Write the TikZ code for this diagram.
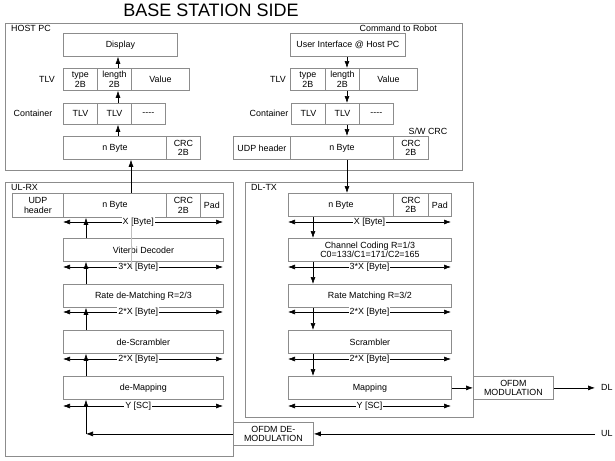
\documentclass[tikz,border=0pt]{standalone}
\usepackage{fontspec}
\setmainfont{Liberation Sans}
\usetikzlibrary{arrows.meta}
\definecolor{boxgray}{gray}{0.55}
\tikzset{
  cell/.style={draw=boxgray,line width=0.8pt,anchor=north west,inner sep=0pt,
    minimum height=23pt,align=center,font=\fontsize{8.9}{9.7}\selectfont},
  frame/.style={draw=boxgray,line width=0.8pt},
  lbl/.style={inner sep=0pt,font=\fontsize{8.9}{9.7}\selectfont},
  dimline/.style={<->,line width=0.6pt},
  dimtxt/.style={fill=white,inner sep=1pt,font=\fontsize{8.9}{9.7}\selectfont},
  flow/.style={->,line width=0.6pt},
}
\begin{document}
\begin{tikzpicture}[x=1pt,y=-1pt,>={Latex[length=7pt,width=5pt]}]
\useasboundingbox (0,0) rectangle (615,460);

\node[inner sep=0pt,font=\fontsize{18}{20}\selectfont] (title) at (211,10) {BASE STATION SIDE};

% host PC frame
\draw[frame] (5,23) rectangle (462,170);
\node[lbl,anchor=north west] (hostlbl) at (11,25) {HOST PC};
\node[lbl,anchor=east] (cmdlbl) at (437,28) {Command to Robot};

% host PC, receive side
\node[cell,minimum width=114pt] (disp) at (63,33) {Display};
\node[cell,minimum width=34pt,minimum height=22pt] (htype) at (63,68) {type\\2B};
\node[cell,minimum width=34pt,minimum height=22pt] (hlen) at (97,68) {length\\2B};
\node[cell,minimum width=58pt,minimum height=22pt] (hval) at (131,68) {Value};
\node[lbl] (htlv) at (47,79) {TLV};
\node[cell,minimum width=34pt,minimum height=21pt] (hc1) at (63,103) {TLV};
\node[cell,minimum width=34pt,minimum height=21pt] (hc2) at (97,103) {TLV};
\node[cell,minimum width=34pt,minimum height=21pt] (hc3) at (131,103) {{-}{-}{-}{-}};
\node[lbl] (hcont) at (33,113) {Container};
\node[cell,minimum width=103pt] (hnb) at (63,136) {n Byte};
\node[cell,minimum width=34pt] (hcrc) at (166,136) {CRC\\2B};

% host PC, send side
\node[cell,minimum width=115pt] (ui) at (290,33) {User Interface @ Host PC};
\node[cell,minimum width=35pt,minimum height=22pt] (stype) at (290,68) {type\\2B};
\node[cell,minimum width=34pt,minimum height=22pt] (slen) at (325,68) {length\\2B};
\node[cell,minimum width=58pt,minimum height=22pt] (sval) at (359,68) {Value};
\node[lbl] (stlv) at (278,79) {TLV};
\node[cell,minimum width=34pt,minimum height=21pt] (sc1) at (291,103) {TLV};
\node[cell,minimum width=34pt,minimum height=21pt] (sc2) at (325,103) {TLV};
\node[cell,minimum width=34pt,minimum height=21pt] (sc3) at (359,103) {{-}{-}{-}{-}};
\node[lbl] (scont) at (269,113) {Container};
\node[cell,minimum width=57pt] (sudp) at (233,136) {UDP header};
\node[cell,minimum width=103pt] (snb) at (290,136) {n Byte};
\node[cell,minimum width=35pt] (scrc) at (393,136) {CRC\\2B};
\node[lbl] (swcrc) at (428,131) {S/W CRC};

\coordinate (hx) at (118,0);
\coordinate (sx) at (347,0);
\draw[flow] (hnb.north -| hx) -- (hc2.south -| hx);
\draw[flow] (hc2.north -| hx) -- (hlen.south -| hx);
\draw[flow] (hlen.north -| hx) -- (disp.south -| hx);
\draw[flow] (ui.south -| sx) -- (slen.north -| sx);
\draw[flow] (slen.south -| sx) -- (sc2.north -| sx);
\draw[flow] (sc2.south -| sx) -- (snb.north -| sx);

% UL-RX
\draw[frame] (5,182) rectangle (233,456);
\node[lbl,anchor=north west] (ulrx) at (11,184) {UL-RX};
\node[cell,minimum width=51pt,minimum height=24pt] (uudp) at (12,193) {UDP\\header};
\node[cell,minimum width=103pt,minimum height=24pt] (unb) at (63,193) {n Byte};
\node[cell,minimum width=34pt,minimum height=24pt] (ucrc) at (166,193) {CRC\\2B};
\node[cell,minimum width=23pt,minimum height=24pt] (upad) at (200,193) {Pad};
\node[cell,minimum width=160pt] (vit) at (63,238) {Viterbi Decoder};
\node[cell,minimum width=160pt] (rdm) at (63,284) {Rate de-Matching R=2/3};
\node[cell,minimum width=160pt] (dscr) at (63,330) {de-Scrambler};
\node[cell,minimum width=160pt] (dmap) at (63,376) {de-Mapping};
\foreach \y/\t in {222/X [Byte],267/3*X [Byte],312/2*X [Byte],359/2*X [Byte],406/Y [SC]}
  \draw[dimline] (63,\y) -- node[dimtxt,pos=0.47]{\t} (223,\y);

\coordinate (ux) at (86,0);
\coordinate (hostx) at (131,0);
\draw[gray!50,line width=0.5pt] (unb.south -| hostx) -- (131,267);
\draw[flow] (dmap.north -| ux) -- (dscr.south -| ux);
\draw[flow] (dscr.north -| ux) -- (rdm.south -| ux);
\draw[flow] (rdm.north -| ux) -- (vit.south -| ux);
\draw[flow] (vit.north -| ux) -- (unb.south -| ux);
\draw[flow] (unb.north -| hostx) -- (hnb.south -| hostx);

% DL-TX
\draw[frame] (245,182) rectangle (473,417);
\node[lbl,anchor=north west] (dltx) at (251,184) {DL-TX};
\node[cell,minimum width=105pt] (dnb) at (288,193) {n Byte};
\node[cell,minimum width=35pt] (dcrc) at (393,193) {CRC\\2B};
\node[cell,minimum width=23pt] (dpad) at (428,193) {Pad};
\node[cell,minimum width=163pt] (chc) at (288,238) {Channel Coding R=1/3\\C0=133/C1=171/C2=165};
\node[cell,minimum width=163pt] (rm) at (288,284) {Rate Matching R=3/2};
\node[cell,minimum width=163pt] (scr) at (288,330) {Scrambler};
\node[cell,minimum width=163pt] (map) at (288,376) {Mapping};
\foreach \y/\t in {222/X [Byte],267/3*X [Byte],312/2*X [Byte],359/2*X [Byte],406/Y [SC]}
  \draw[dimline] (288,\y) -- node[dimtxt]{\t} (451,\y);

\coordinate (dx) at (313,0);
\draw[flow] (snb.south -| sx) -- (dnb.north -| sx);
\draw[flow] (dnb.south -| dx) -- (chc.north -| dx);
\draw[flow] (chc.south -| dx) -- (rm.north -| dx);
\draw[flow] (rm.south -| dx) -- (scr.north -| dx);
\draw[flow] (scr.south -| dx) -- (map.north -| dx);

% OFDM blocks
\node[cell,minimum width=80pt] (ofdm) at (473,376) {OFDM\\MODULATION};
\node[cell,minimum width=80pt] (demod) at (233,422) {OFDM DE-\\MODULATION};
\coordinate (dlout) at (595,0);
\coordinate (ulin) at (595,0);
\node[lbl,anchor=west] (dl) at (601,387.5) {DL};
\node[lbl,anchor=west] (ul) at (601,433.5) {UL};
\draw[flow] (map.east) -- (ofdm.west);
\draw[flow] (ofdm.east) -- (ofdm.east -| dlout);
\draw[flow] (demod.east -| ulin) -- (demod.east);
\draw[flow] (demod.west) -- (demod.west -| ux);
\draw[flow] (demod.west -| ux) -- (dmap.south -| ux);
\end{tikzpicture}
\end{document}
